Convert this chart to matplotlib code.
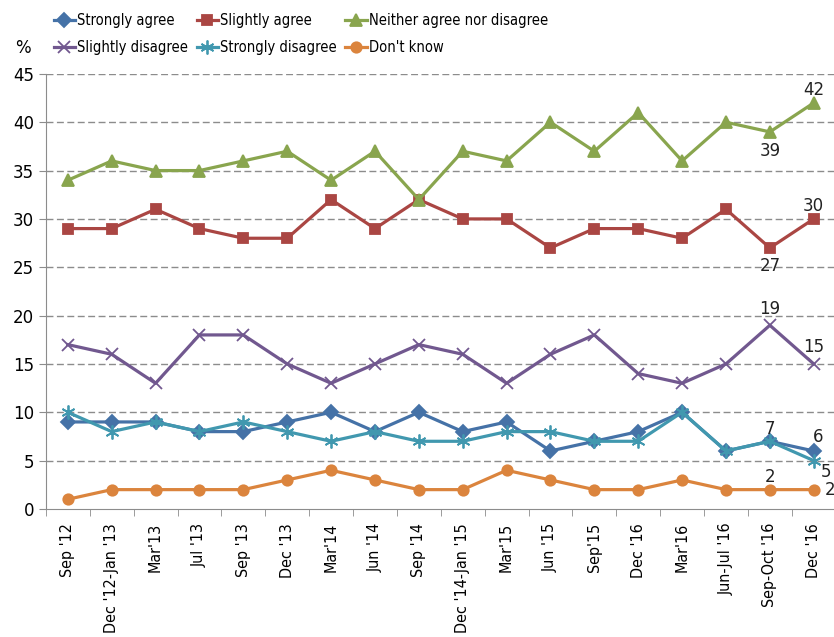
import matplotlib
matplotlib.use("Agg")
import matplotlib.pyplot as plt

# Survey waves and share of answers per option (%)
waves = ["Sep '12", "Dec '12-Jan '13", "Mar'13", "Jul '13", "Sep '13", "Dec '13",
         "Mar'14", "Jun '14", "Sep '14", "Dec '14-Jan '15", "Mar'15", "Jun '15",
         "Sep'15", "Dec '16", "Mar'16", "Jun-Jul '16", "Sep-Oct '16", "Dec '16"]

strongly_agree = [9, 9, 9, 8, 8, 9, 10, 8, 10, 8, 9, 6, 7, 8, 10, 6, 7, 6]
slightly_agree = [29, 29, 31, 29, 28, 28, 32, 29, 32, 30, 30, 27, 29, 29, 28, 31, 27, 30]
neither = [34, 36, 35, 35, 36, 37, 34, 37, 32, 37, 36, 40, 37, 41, 36, 40, 39, 42]
slightly_disagree = [17, 16, 13, 18, 18, 15, 13, 15, 17, 16, 13, 16, 18, 14, 13, 15, 19, 15]
strongly_disagree = [10, 8, 9, 8, 9, 8, 7, 8, 7, 7, 8, 8, 7, 7, 10, 6, 7, 5]
dont_know = [1, 2, 2, 2, 2, 3, 4, 3, 2, 2, 4, 3, 2, 2, 3, 2, 2, 2]

series = [
    ("Strongly agree", strongly_agree, "#4572A7", "D", 7),
    ("Slightly agree", slightly_agree, "#AA4643", "s", 7.5),
    ("Neither agree nor disagree", neither, "#89A54E", "^", 8),
    ("Slightly disagree", slightly_disagree, "#71588F", "x", 9),
    ("Strongly disagree", strongly_disagree, "#4198AF", (6, 2, 0), 10),
    ("Don't know", dont_know, "#DB843D", "o", 7.5),
]

fig = plt.figure(figsize=(8.34, 6.37), dpi=100)
ax = fig.add_axes([0.055, 0.201, 0.947, 0.683])

x = list(range(len(waves)))
handles = {}
for name, vals, color, marker, ms in series:
    h, = ax.plot(x, vals, color=color, lw=2.3, marker=marker, markersize=ms,
                 markeredgewidth=1.3, markeredgecolor=color, label=name,
                 zorder=3, clip_on=False)
    handles[name] = h

ax.set_xlim(-0.5, len(waves) - 0.5)
ax.set_ylim(0, 45)
ax.set_yticks(range(0, 46, 5))
for v in range(5, 46, 5):
    ax.axhline(v, color="#8c8c8c", lw=1, ls=(0, (5, 2.5)), zorder=1)

ax.set_xticks(x)
ax.set_xticklabels(waves, rotation=90, fontsize=11.5, fontstretch="condensed")
ax.set_xticks([i - 0.5 for i in range(len(waves) + 1)], minor=True)
ax.tick_params(axis="x", which="major", length=0, pad=10)
ax.tick_params(axis="x", which="minor", length=5, color="#8c8c8c")
ax.tick_params(axis="y", length=5, color="#8c8c8c", labelsize=12)

for side in ["top", "right"]:
    ax.spines[side].set_visible(False)
for side in ["left", "bottom"]:
    ax.spines[side].set_color("#8c8c8c")

fig.text(0.018, 0.925, "%", fontsize=12, va="center")

# Value labels on the latest waves
last = len(waves) - 1
prev = last - 1
ann = [
    (last, neither[last], "42", 0, 9, "center"),
    (prev, neither[prev], "39", 0, -14, "center"),
    (last, slightly_agree[last], "30", 0, 9, "center"),
    (prev, slightly_agree[prev], "27", 0, -13, "center"),
    (prev, slightly_disagree[prev], "19", 0, 12, "center"),
    (last, slightly_disagree[last], "15", 0, 12, "center"),
    (prev, strongly_disagree[prev], "7", 0, 9, "center"),
    (last, strongly_agree[last], "6", 3, 10, "center"),
    (last, strongly_disagree[last], "5", 9, -8, "center"),
    (prev, dont_know[prev], "2", 0, 9, "center"),
    (last, dont_know[last], "2", 8, 0, "left"),
]
for xi, yi, txt, dx, dy, ha in ann:
    ax.annotate(txt, (xi, yi), xytext=(dx, dy), textcoords="offset points",
                ha=ha, va="center", fontsize=12, color="#222222",
                annotation_clip=False)

# legend fills column by column, so order entries to read row by row
order = ["Strongly agree", "Slightly disagree", "Slightly agree",
         "Strongly disagree", "Neither agree nor disagree", "Don't know"]
fig.legend(handles=[handles[n] for n in order], loc="upper left",
           bbox_to_anchor=(0.052, 0.995), ncol=3, frameon=False,
           handlelength=1.45, columnspacing=0.6, handletextpad=0.15,
           labelspacing=0.8, borderaxespad=0.3,
           prop={"family": "DejaVu Sans", "stretch": "condensed", "size": 10.5})

fig.savefig("out.png", dpi=100)
